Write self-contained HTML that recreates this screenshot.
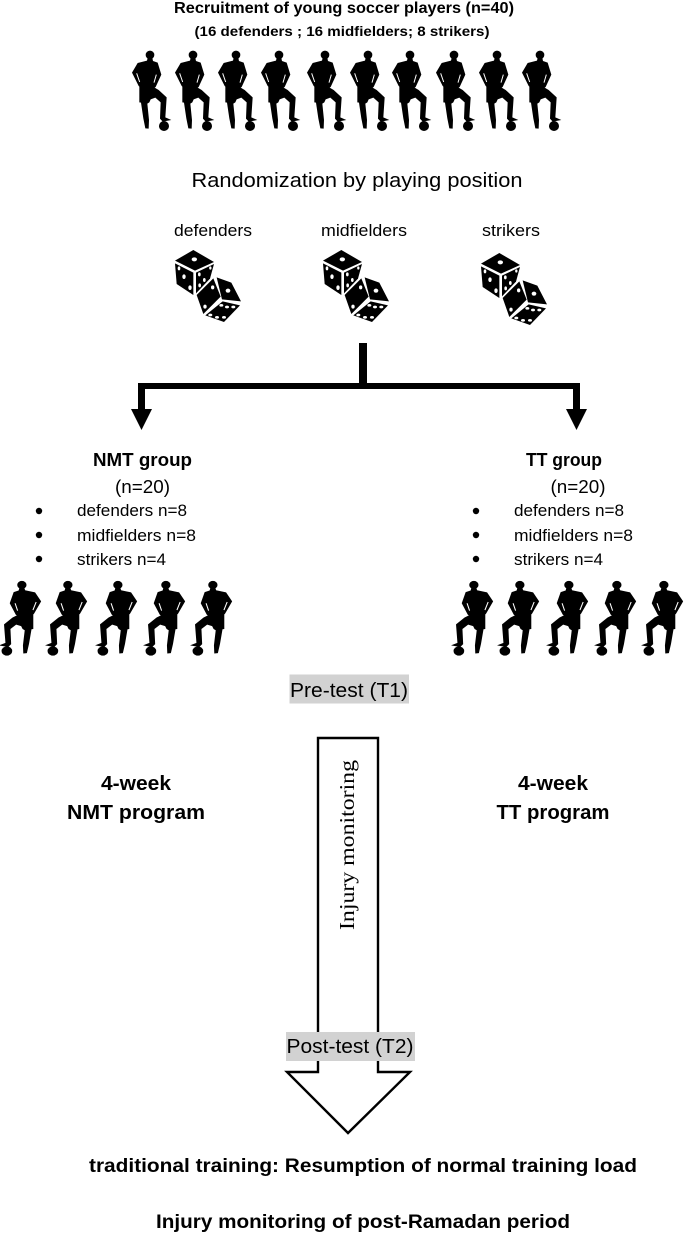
<!DOCTYPE html>
<html><head><meta charset="utf-8"><style>
html,body{margin:0;padding:0;background:#fff}
svg{display:block}
text{font-family:"Liberation Sans",sans-serif;fill:#000}
.b{font-weight:bold}
</style></head><body>
<svg width="684" height="1234" viewBox="0 0 684 1234" xmlns="http://www.w3.org/2000/svg">
<defs>
<g id="p">
<circle cx="90" cy="45" r="13"/>
<path d="M83 54L97 54L99 63L113 68L124 104L107 141L104 143L116 150L140 172L136 232L154 240L128 245L120 236L122 187L106 173L92 178L88 187L82 191L87 240L86 266L76 265L70 235L63 188L58 187L58 140L56 138L36 98L53 69L81 62Z"/>
<path d="M50 100L59 126M109 104L102 128" stroke="#fff" stroke-width="3" fill="none"/>
<circle cx="132" cy="258" r="15"/>
</g>
<g id="d">
<path d="M45 62L100 30L162 66L105 92Z"/>
<path d="M45 70L100 98L100 165L50 132Z"/>
<path d="M108 98L162 72L150 116L108 160Z"/>
<path d="M110 165L160 115L182 170L130 222Z"/>
<path d="M170 112L214 128L243 184L186 178Z"/>
<path d="M136 226L188 184L240 196L192 246Z"/>
<g fill="#fff">
<ellipse cx="103" cy="58" rx="8" ry="6"/>
<ellipse cx="57" cy="85" rx="4" ry="6"/><ellipse cx="72" cy="110" rx="5" ry="7"/><ellipse cx="90" cy="143" rx="5" ry="7"/>
<ellipse cx="118" cy="103" rx="4" ry="6"/><ellipse cx="151" cy="84" rx="3.500" ry="5"/><ellipse cx="133" cy="120" rx="4" ry="6"/><ellipse cx="119" cy="136" rx="4" ry="6"/>
<ellipse cx="158" cy="142" rx="5" ry="6"/><ellipse cx="135" cy="200" rx="5" ry="6"/>
<ellipse cx="204" cy="152" rx="7" ry="6"/>
<ellipse cx="184" cy="196" rx="6" ry="4"/><ellipse cx="201" cy="201" rx="6" ry="4"/><ellipse cx="220" cy="201" rx="6" ry="4"/><ellipse cx="151" cy="225" rx="6" ry="4"/><ellipse cx="171" cy="232" rx="6" ry="4"/><ellipse cx="192" cy="232" rx="6" ry="4"/>
</g>
</g>
<g id="q"><use href="#p" transform="matrix(-0.357 0 0 0.31 0 0)"/></g>
</defs>

<text class="b" x="344" y="13" font-size="16" text-anchor="middle" textLength="340" lengthAdjust="spacingAndGlyphs">Recruitment of young soccer players (n=40)</text>
<text class="b" x="342" y="36" font-size="14" text-anchor="middle" textLength="295" lengthAdjust="spacingAndGlyphs">(16 defenders ; 16 midfielders; 8 strikers)</text>

<g>
<use href="#p" transform="translate(120 40) scale(.3333)"/>
<use href="#p" transform="translate(163 40) scale(.3333)"/>
<use href="#p" transform="translate(206 40) scale(.3333)"/>
<use href="#p" transform="translate(249 40) scale(.3333)"/>
<use href="#p" transform="translate(295 40) scale(.3333)"/>
<use href="#p" transform="translate(338 40) scale(.3333)"/>
<use href="#p" transform="translate(380 40) scale(.3333)"/>
<use href="#p" transform="translate(424 40) scale(.3333)"/>
<use href="#p" transform="translate(467 40) scale(.3333)"/>
<use href="#p" transform="translate(510 40) scale(.3333)"/>
</g>

<text x="357" y="187" font-size="20" text-anchor="middle" textLength="331" lengthAdjust="spacingAndGlyphs">Randomization by playing position</text>
<text x="213" y="236" font-size="17" text-anchor="middle" textLength="78" lengthAdjust="spacingAndGlyphs">defenders</text>
<text x="364" y="236" font-size="17" text-anchor="middle" textLength="86" lengthAdjust="spacingAndGlyphs">midfielders</text>
<text x="511" y="236" font-size="17" text-anchor="middle" textLength="58" lengthAdjust="spacingAndGlyphs">strikers</text>

<use href="#d" transform="translate(160 240) scale(.3333)"/>
<use href="#d" transform="translate(308 240) scale(.3333)"/>
<use href="#d" transform="translate(466 243) scale(.3333)"/>

<rect x="359" y="343" width="8" height="42"/>
<path d="M138 383H580V409H587L576.500 430L566 409H573V389H145V409H152L141.500 430L131 409H138Z"/>

<text class="b" x="142.500" y="466" font-size="18" text-anchor="middle" textLength="99" lengthAdjust="spacingAndGlyphs">NMT group</text>
<text x="142.500" y="493" font-size="18" text-anchor="middle" textLength="55" lengthAdjust="spacingAndGlyphs">(n=20)</text>
<circle cx="39" cy="511" r="3.200"/><circle cx="39" cy="535" r="3.200"/><circle cx="39" cy="559" r="3.200"/>
<text x="77" y="516" font-size="17" textLength="110" lengthAdjust="spacingAndGlyphs">defenders n=8</text>
<text x="77" y="541" font-size="17" textLength="119" lengthAdjust="spacingAndGlyphs">midfielders n=8</text>
<text x="77" y="565" font-size="17" textLength="89" lengthAdjust="spacingAndGlyphs">strikers n=4</text>

<text class="b" x="564" y="466" font-size="18" text-anchor="middle" textLength="76" lengthAdjust="spacingAndGlyphs">TT group</text>
<text x="578" y="493" font-size="18" text-anchor="middle" textLength="55" lengthAdjust="spacingAndGlyphs">(n=20)</text>
<circle cx="476" cy="511" r="3.200"/><circle cx="476" cy="535" r="3.200"/><circle cx="476" cy="559" r="3.200"/>
<text x="514" y="516" font-size="17" textLength="110" lengthAdjust="spacingAndGlyphs">defenders n=8</text>
<text x="514" y="541" font-size="17" textLength="119" lengthAdjust="spacingAndGlyphs">midfielders n=8</text>
<text x="514" y="565" font-size="17" textLength="89" lengthAdjust="spacingAndGlyphs">strikers n=4</text>

<g>
<use href="#q" transform="translate(54 571)"/>
<use href="#q" transform="translate(100 571)"/>
<use href="#q" transform="translate(150 571)"/>
<use href="#q" transform="translate(198 571)"/>
<use href="#q" transform="translate(245 571)"/>
<use href="#q" transform="translate(506 571)"/>
<use href="#q" transform="translate(552 571)"/>
<use href="#q" transform="translate(601 571)"/>
<use href="#q" transform="translate(649 571)"/>
<use href="#q" transform="translate(696 571)"/>
</g>

<path d="M318 738H378V1072H410L348 1133L287 1072H318Z" fill="#fff" stroke="#000" stroke-width="2.400"/>
<rect x="289.500" y="674.500" width="119.500" height="29" fill="#d2d2d2"/>
<text x="349" y="697" font-size="20" text-anchor="middle" textLength="118" lengthAdjust="spacingAndGlyphs">Pre-test (T1)</text>
<rect x="286" y="1032" width="129" height="29" fill="#d2d2d2"/>
<text x="350" y="1053" font-size="20" text-anchor="middle" textLength="127" lengthAdjust="spacingAndGlyphs">Post-test (T2)</text>

<text transform="translate(354 930) rotate(-90)" font-size="21" style="font-family:'Liberation Serif',serif" textLength="170" lengthAdjust="spacingAndGlyphs">Injury monitoring</text>

<text class="b" x="136" y="790" font-size="20" text-anchor="middle" textLength="70" lengthAdjust="spacingAndGlyphs">4-week</text>
<text class="b" x="136" y="819" font-size="20" text-anchor="middle" textLength="138" lengthAdjust="spacingAndGlyphs">NMT program</text>
<text class="b" x="553" y="790" font-size="20" text-anchor="middle" textLength="70" lengthAdjust="spacingAndGlyphs">4-week</text>
<text class="b" x="553" y="819" font-size="20" text-anchor="middle" textLength="113" lengthAdjust="spacingAndGlyphs">TT program</text>

<text class="b" x="363" y="1172" font-size="19" text-anchor="middle" textLength="548" lengthAdjust="spacingAndGlyphs">traditional training: Resumption of normal training load</text>
<text class="b" x="363" y="1228" font-size="19" text-anchor="middle" textLength="414" lengthAdjust="spacingAndGlyphs">Injury monitoring of post-Ramadan period</text>
</svg>
</body></html>
